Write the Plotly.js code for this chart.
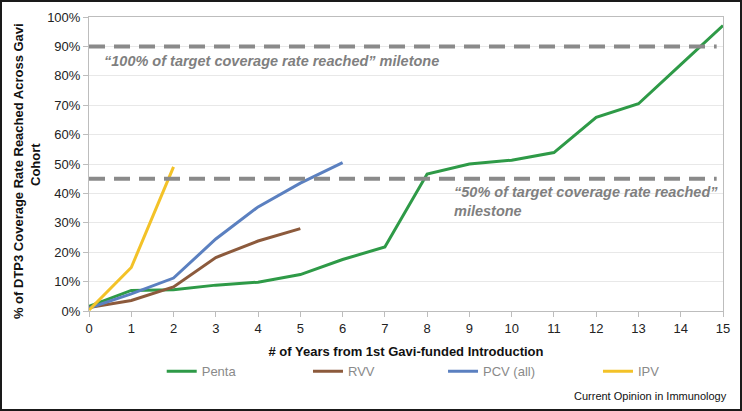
<!DOCTYPE html>
<html>
<head>
<meta charset="utf-8">
<script src="https://cdn.plot.ly/plotly-3.0.1.min.js"></script>
<style>
html,body{margin:0;padding:0;background:#fff;}
#wrap{position:relative;width:742px;height:411px;}
#chart{width:742px;height:411px;}
#frame{position:absolute;left:0;top:0;width:738px;height:407px;border:2px solid #1a1a1a;pointer-events:none;}
</style>
</head>
<body>
<div id="wrap"><div id="chart"></div><div id="frame"></div></div>
<script>
// Data
const pentaYears = [0,1,2,3,4,5,6,7,8,9,10,11,12,13,14,15];
const pentaValues = [1.6,7.0,7.2,8.8,9.8,12.4,17.5,21.8,46.6,50.0,51.3,53.9,65.9,70.5,83.8,97.1];
const rvvYears = [0,1,2,3,4,5];
const rvvValues = [1.2,3.6,8.2,18.2,23.8,28.0];
const pcvYears = [0,1,2,3,4,5,6];
const pcvValues = [1.0,5.8,11.2,24.5,35.4,43.5,50.5];
const ipvYears = [0,1,2];
const ipvValues = [0.3,14.8,49.0];
const seriesNames = ['Penta','RVV','PCV (all)','IPV'];
const milestoneValues = [90,45];
const milestoneLabels = ['\u201c100% of target coverage rate reached\u201d miletone','\u201c50% of target coverage rate reached\u201d<br>milestone'];
const yTitleLines = ['% of DTP3 Coverage Rate Reached Across Gavi','Cohort'];
const xTitle = '# of Years from 1st Gavi-funded Introduction';
const sourceText = 'Current Opinion in Immunology';

const colors = ['#2e9a47','#8c5a3c','#5b80c0','#f3c228'];
const font = 'Liberation Sans, Arial, sans-serif';
const legendIds = ['legend','legend2','legend3','legend4'];
const legendX = [0.1147,0.3454,0.5584,0.8028];

const traces = [
  {x: pentaYears, y: pentaValues, name: seriesNames[0]},
  {x: rvvYears, y: rvvValues, name: seriesNames[1]},
  {x: pcvYears, y: pcvValues, name: seriesNames[2]},
  {x: ipvYears, y: ipvValues, name: seriesNames[3]}
].map((t,i)=>Object.assign(t,{type:'scatter',mode:'lines',line:{color:colors[i],width:3},hoverinfo:'skip',legend:legendIds[i]}));

const titleFont = {family: font, size: 13, color: '#111', weight: 'bold'};
const noteFont = {family: font, size: 14.5, color: '#7f7f7f', style: 'italic', weight: 'bold'};

const layout = {
  width: 742, height: 411,
  margin: {l: 89, r: 19, t: 17, b: 100},
  paper_bgcolor: '#fff', plot_bgcolor: '#fff',
  font: {family: font, size: 13, color: '#222'},
  showlegend: true,
  xaxis: {range: [0,15], dtick: 1, tick0: 0, showgrid: false, zeroline: false,
    showline: true, linecolor: '#bdbdbd', linewidth: 1, mirror: true,
    ticks: 'outside', ticklen: 5, tickcolor: '#bdbdbd',
    tickfont: {family: font, size: 13, color: '#222'},
    title: {text: xTitle, font: titleFont, standoff: 12}},
  yaxis: {range: [0,100], dtick: 10, tick0: 0, ticksuffix: '%', showgrid: true, gridcolor: '#e8e8e8', zeroline: false,
    showline: true, linecolor: '#bdbdbd', linewidth: 1, mirror: true,
    ticks: 'outside', ticklen: 5, tickcolor: '#bdbdbd',
    tickfont: {family: font, size: 13, color: '#222'}},
  shapes: milestoneValues.map(v => ({type: 'line', xref: 'paper', x0: 0, x1: 0.99, yref: 'y', y0: v, y1: v,
    line: {color: '#8a8a8a', width: 4, dash: '16px,9px'}, layer: 'above'})),
  annotations: [
    {text: milestoneLabels[0], xref: 'x', yref: 'y', x: 0.3, y: 85, xanchor: 'left', yanchor: 'middle', showarrow: false, font: noteFont},
    {text: milestoneLabels[1], xref: 'x', yref: 'y', x: 8.58, y: 37.3, xanchor: 'left', yanchor: 'middle', align: 'left', showarrow: false, font: noteFont},
    {text: yTitleLines[0], xref: 'paper', yref: 'paper', x: -0.112, y: 0.476, xanchor: 'center', yanchor: 'middle', textangle: -90, showarrow: false, font: titleFont},
    {text: yTitleLines[1], xref: 'paper', yref: 'paper', x: -0.0852, y: 0.5, xanchor: 'center', yanchor: 'middle', textangle: -90, showarrow: false, font: titleFont},
    {text: sourceText, xref: 'paper', yref: 'paper', x: 1.01, y: -0.29, xanchor: 'right', yanchor: 'middle', showarrow: false,
      font: {family: font, size: 11, color: '#111'}}
  ]
};
legendIds.forEach((id,i)=>{
  layout[id] = {orientation: 'h', x: legendX[i], xanchor: 'left', y: -0.205, yanchor: 'middle',
    font: {family: font, size: 13, color: '#8a8a8a'}, itemwidth: 30, bgcolor: 'rgba(0,0,0,0)'};
});

Plotly.newPlot('chart', traces, layout, {displayModeBar: false, staticPlot: true});
</script>
</body>
</html>
